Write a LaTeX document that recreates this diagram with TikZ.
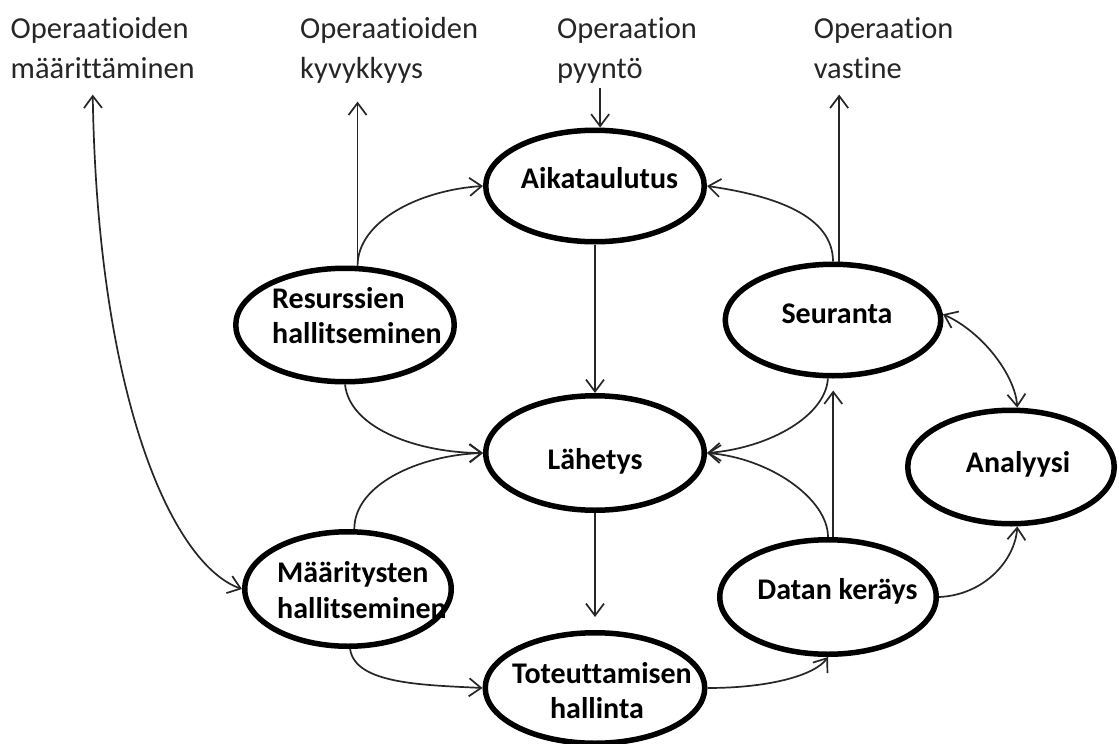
\documentclass[tikz,border=0pt]{standalone}
\usepackage{fontspec}
\setmainfont{Carlito}[Ligatures=CommonOff]
\usetikzlibrary{shapes.geometric,arrows.meta,calc}
\begin{document}
\begin{tikzpicture}[x=1pt,y=-1pt,
  oval/.style={ellipse, draw=black, line width=5.5pt, fill=white, inner sep=0pt},
  toplbl/.style={inner sep=0pt, anchor=base west, text=black!85,
    font=\fontsize{30.5}{36}\selectfont},
  nlbl/.style={inner sep=0pt, text=black,
    font=\bfseries\fontsize{30}{35}\selectfont},
  conn/.style={line width=1.7pt, draw=black!85,
    -{Straight Barb[length=12pt,width=18pt]}},
  biconn/.style={conn,
    {Straight Barb[length=12pt,width=18pt]}-{Straight Barb[length=12pt,width=18pt]}}
]
\useasboundingbox (0,0) rectangle (1119,744);
\fill[white] (0,0) rectangle (1119,744);

% process ovals
\node[oval, minimum width=218.5pt, minimum height=111.5pt] (aik) at (595,186) {};
\node[oval, minimum width=218.5pt, minimum height=113.5pt] (res) at (345,325) {};
\node[oval, minimum width=218.5pt, minimum height=114.5pt] (lah) at (595,453) {};
\node[oval, minimum width=215.5pt, minimum height=111.5pt] (seu) at (833,320) {};
\node[oval, minimum width=206.5pt, minimum height=113.5pt] (ana) at (1011,467) {};
\node[oval, minimum width=206.5pt, minimum height=114.5pt] (maa) at (348,589) {};
\node[oval, minimum width=216.5pt, minimum height=114.5pt] (dat) at (828,597) {};
\node[oval, minimum width=219.5pt, minimum height=110.5pt] (tot) at (595,688) {};

% oval captions
\node[nlbl, anchor=base] (aik-t) at (599.5,188) {Aikataulutus};
\node[nlbl, anchor=base west] (res-t1) at (272,308) {Resurssien};
\node[nlbl, anchor=base west] (res-t2) at (272,343) {hallitseminen};
\node[nlbl, anchor=base] (lah-t) at (595,469) {Lähetys};
\node[nlbl, anchor=base] (seu-t) at (837,323) {Seuranta};
\node[nlbl, anchor=base] (ana-t) at (1018,472) {Analyysi};
\node[nlbl, anchor=base west] (maa-t1) at (277,582) {Määritysten};
\node[nlbl, anchor=base west] (maa-t2) at (277,618) {hallitseminen};
\node[nlbl, anchor=base] (dat-t) at (837.5,599) {Datan keräys};
\node[nlbl, anchor=base] (tot-t1) at (602,683) {Toteuttamisen};
\node[nlbl, anchor=base] (tot-t2) at (597,718) {hallinta};

% external inputs and outputs
\node[toplbl] (op1a) at (10.5,38.5) {Operaatioiden};
\node[toplbl] (op1b) at (10.5,78.6) {määrittäminen};
\node[toplbl] (op2a) at (300,38.5) {Operaatioiden};
\node[toplbl] (op2b) at (300,78.6) {kyvykkyys};
\node[toplbl] (op3a) at (557,38.5) {Operaation};
\node[toplbl] (op3b) at (557,78.6) {pyyntö};
\node[toplbl] (op4a) at (813.6,38.5) {Operaation};
\node[toplbl] (op4b) at (813.6,78.6) {vastine};

% connectors
\draw[biconn] ($(op1b.base)+(-10,16)$) .. controls +(5,305) and +(-69,-24) .. (maa.west);
\draw[conn] (res.78) -- ($(res.78 |- op2b.base)+(0,23)$);
\draw[conn] ($(aik.85 |- op3b.base)+(0,9)$) -- (aik.85);
\draw[conn] (seu.84) -- ($(seu.84 |- op4b.base)+(0,16)$);

\draw[conn] (res.78) .. controls +(0,-45) and +(-63,4) .. (aik.west);
\draw[conn] (seu.north) .. controls +(0,-45) and +(70,10) .. (aik.east);
\draw[conn] (aik.south) -- (lah.north);

\draw[conn] (res.south) .. controls +(5,45) and +(-63,0) .. (lah.west);
\draw[conn] (maa.84) .. controls +(0,-45) and +(-63,2) .. (lah.west);
\draw[conn] (lah.south) -- ($(tot.north)+(0,-13)$);
\draw[conn] (maa.272) .. controls +(5,35) and +(-60,-3) .. (tot.west);

\draw[conn] (seu.265) .. controls +(-2,37) and +(63,-5) .. (lah.east);
\draw[conn] (dat.north) .. controls +(0,-38) and +(63,5) .. (lah.east);
\draw[conn] (dat.85) -- ($(dat.85 |- seu.south)+(0,12)$);

\draw[conn] (tot.east) .. controls +(63,0) and +(-13,18) .. (dat.south);
\draw[conn] (dat.east) .. controls +(46,-2) and +(-2,33) .. (ana.276);
\draw[biconn] (seu.3) .. controls +(40,18) and +(-2,-32) .. (ana.84);
\end{tikzpicture}
\end{document}
